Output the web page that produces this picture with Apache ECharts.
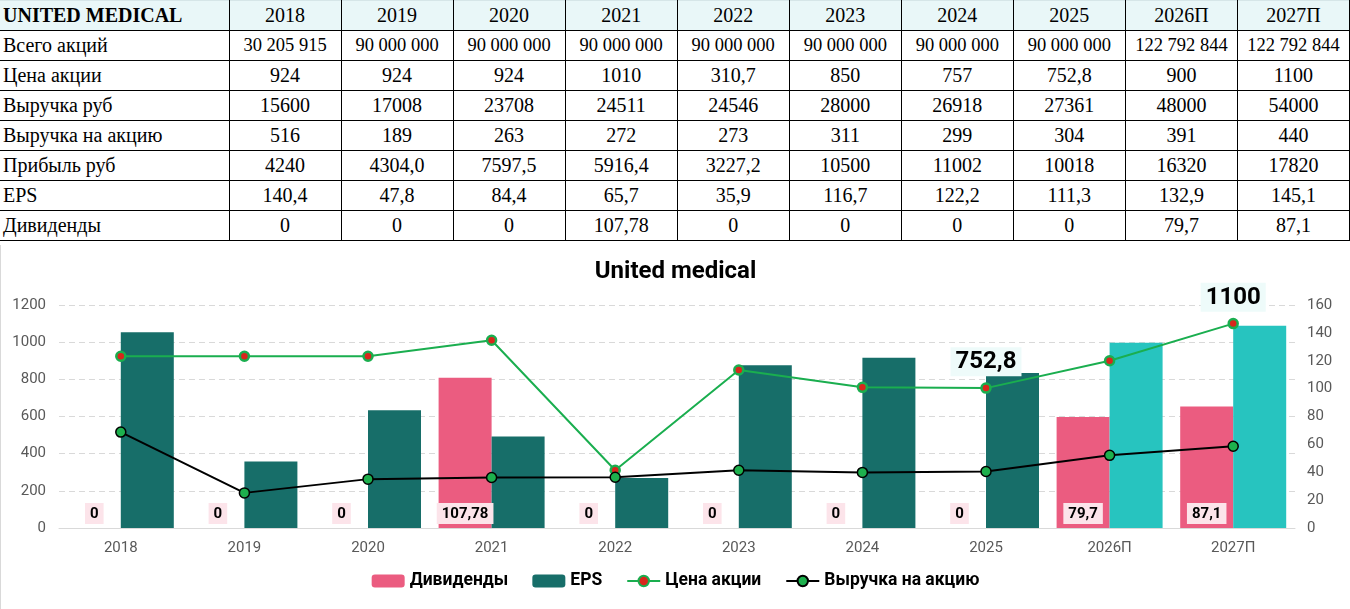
<!DOCTYPE html>
<html>
<head>
<meta charset="utf-8">
<script src="https://cdn.jsdelivr.net/npm/echarts@6/dist/echarts.min.js"></script>
<style>
    html, body { margin: 0; padding: 0; background: #fff; }
    body { width: 1350px; height: 609px; position: relative; overflow: hidden; }
    #tbl { position: absolute; left: 0; top: 0; width: 1350px; border-collapse: collapse; table-layout: fixed;
        font-family: 'Liberation Serif', 'Times New Roman', serif; font-size: 20px; color: #000; }
    #tbl td { border: 1px solid #000; height: 29px; padding: 0; text-align: center; white-space: nowrap; overflow: hidden; }
    #tbl td:first-child { text-align: left; padding-left: 3px; border-left: none; }
    #tbl tr:first-child td { background: #e9f7f8; border-top: 1px solid #d6e6e8; }
    #tbl tr:first-child td:first-child { font-weight: bold; }
    #tbl tr.small td { font-size: 18.5px; }
    #tbl tr.small td:first-child { font-size: 20px; }
    #userEChart { position: absolute; left: 0; top: 245px; width: 1350px; height: 364px; border-left: 1px solid #d9d9d9; box-sizing: border-box; }
</style>
</head>
<body>
<table id="tbl"></table>
<div id="userEChart"></div>
<script>
// данные таблицы
var years = ['2018', '2019', '2020', '2021', '2022', '2023', '2024', '2025', '2026П', '2027П'];
var sharesTotal = ['30 205 915', '90 000 000', '90 000 000', '90 000 000', '90 000 000', '90 000 000', '90 000 000', '90 000 000', '122 792 844', '122 792 844'];
var sharePrice = [924, 924, 924, 1010, 310.7, 850, 757, 752.8, 900, 1100];
var revenueRub = ['15600', '17008', '23708', '24511', '24546', '28000', '26918', '27361', '48000', '54000'];
var revenuePerShare = [516, 189, 263, 272, 273, 311, 299, 304, 391, 440];
var profitRub = ['4240', '4304,0', '7597,5', '5916,4', '3227,2', '10500', '11002', '10018', '16320', '17820'];
var eps = [140.4, 47.8, 84.4, 65.7, 35.9, 116.7, 122.2, 111.3, 132.9, 145.1];
var dividends = [0, 0, 0, 107.78, 0, 0, 0, 0, 79.7, 87.1];
var forecastFrom = 8;          // 2026П и дальше
var priceLabelIdx = [7, 9];    // подписи цены
var leftTicks = {min: 0, max: 1200, interval: 200};
var rightTicks = {min: 0, max: 160, interval: 20};

function comma(v) {
    return String(v).replace('.', ',');
}

// таблица
var rows = [
    ['UNITED MEDICAL', years],
    ['Всего акций', sharesTotal],
    ['Цена акции', sharePrice.map(comma)],
    ['Выручка руб', revenueRub],
    ['Выручка на акцию', revenuePerShare.map(comma)],
    ['Прибыль руб', profitRub],
    ['EPS', eps.map(comma)],
    ['Дивиденды', dividends.map(comma)]
];
var html = '<colgroup><col style="width:229px">';
for (var c = 0; c < years.length; c++) html += '<col>';
html += '</colgroup>';
for (var r = 0; r < rows.length; r++) {
    html += '<tr' + (r === 1 ? ' class="small"' : '') + '><td>' + rows[r][0] + '</td>';
    for (var k = 0; k < rows[r][1].length; k++) html += '<td>' + rows[r][1][k] + '</td>';
    html += '</tr>';
}
document.getElementById('tbl').innerHTML = html;

// график
var font = "'Roboto', 'Noto Sans', sans-serif";
var myChart = echarts.init(document.getElementById('userEChart'));

var epsData = eps.map(function (v, i) {
    return i >= forecastFrom ? {value: v, itemStyle: {color: '#27c4bf'}} : v;
});
var priceData = sharePrice.map(function (v, i) {
    if (priceLabelIdx.indexOf(i) < 0) return v;
    return {
        value: v,
        label: {
            show: true,
            position: 'top',
            distance: 6,
            formatter: function (p) { return comma(p.value); },
            fontFamily: font,
            fontWeight: 'bold',
            fontSize: 24,
            color: '#000',
            backgroundColor: '#eefbfa',
            padding: [3, 5, 2, 5]
        }
    };
});
var plainNum = function (v) { return String(v); };

var option = {
    animation: false,
    textStyle: {fontFamily: font},
    title: {
        text: 'United medical',
        left: 'center',
        top: 10,
        textStyle: {fontFamily: font, fontWeight: 'bold', fontSize: 24, color: '#000'}
    },
    legend: {
        bottom: 14,
        left: 'center',
        itemGap: 24,
        itemWidth: 33,
        itemHeight: 13,
        textStyle: {fontFamily: font, fontWeight: 'bold', fontSize: 17.5, color: '#000'},
        data: ['Дивиденды', 'EPS', 'Цена акции', 'Выручка на акцию']
    },
    grid: {left: 58, right: 55, top: 60, bottom: 81, containLabel: false},
    xAxis: [{
        type: 'category',
        data: years,
        axisTick: {show: false},
        axisLine: {lineStyle: {color: '#d9d9d9', width: 1}},
        axisLabel: {margin: 13, fontSize: 15, color: '#595959', fontFamily: font}
    }],
    yAxis: [{
        type: 'value',
        min: leftTicks.min, max: leftTicks.max, interval: leftTicks.interval,
        axisLine: {show: false},
        axisTick: {show: false},
        splitLine: {lineStyle: {color: '#d9d9d9', type: [6, 4]}},
        axisLabel: {margin: 13, fontSize: 15, color: '#595959', fontFamily: font, formatter: plainNum}
    }, {
        type: 'value',
        min: rightTicks.min, max: rightTicks.max, interval: rightTicks.interval,
        axisLine: {show: false},
        axisTick: {show: false},
        splitLine: {show: false},
        axisLabel: {margin: 12, fontSize: 15, color: '#595959', fontFamily: font, formatter: plainNum}
    }],
    series: [{
        name: 'Дивиденды',
        type: 'bar',
        yAxisIndex: 1,
        barWidth: 53,
        barGap: 0,
        data: dividends,
        itemStyle: {color: '#eb5c80'},
        label: {
            show: true,
            position: 'insideBottom',
            distance: 4,
            formatter: function (p) { return comma(p.value); },
            fontFamily: font,
            fontWeight: 'bold',
            fontSize: 15,
            color: '#000',
            backgroundColor: '#fce4ea',
            padding: [4, 5, 2, 5]
        }
    }, {
        name: 'EPS',
        type: 'bar',
        yAxisIndex: 1,
        barWidth: 53,
        barGap: 0,
        data: epsData,
        itemStyle: {color: '#176e69'}
    }, {
        name: 'Цена акции',
        type: 'line',
        yAxisIndex: 0,
        data: priceData,
        symbol: 'circle',
        symbolSize: 9,
        lineStyle: {color: '#1aae4f', width: 2},
        itemStyle: {color: '#d9261c', borderColor: '#1aae4f', borderWidth: 2.5},
        z: 3
    }, {
        name: 'Выручка на акцию',
        type: 'line',
        yAxisIndex: 0,
        data: revenuePerShare,
        symbol: 'circle',
        symbolSize: 10,
        lineStyle: {color: '#000', width: 2},
        itemStyle: {color: '#1db04d', borderColor: '#000', borderWidth: 1.5},
        z: 4
    }]
};
myChart.setOption(option);
</script>
</body>
</html>
